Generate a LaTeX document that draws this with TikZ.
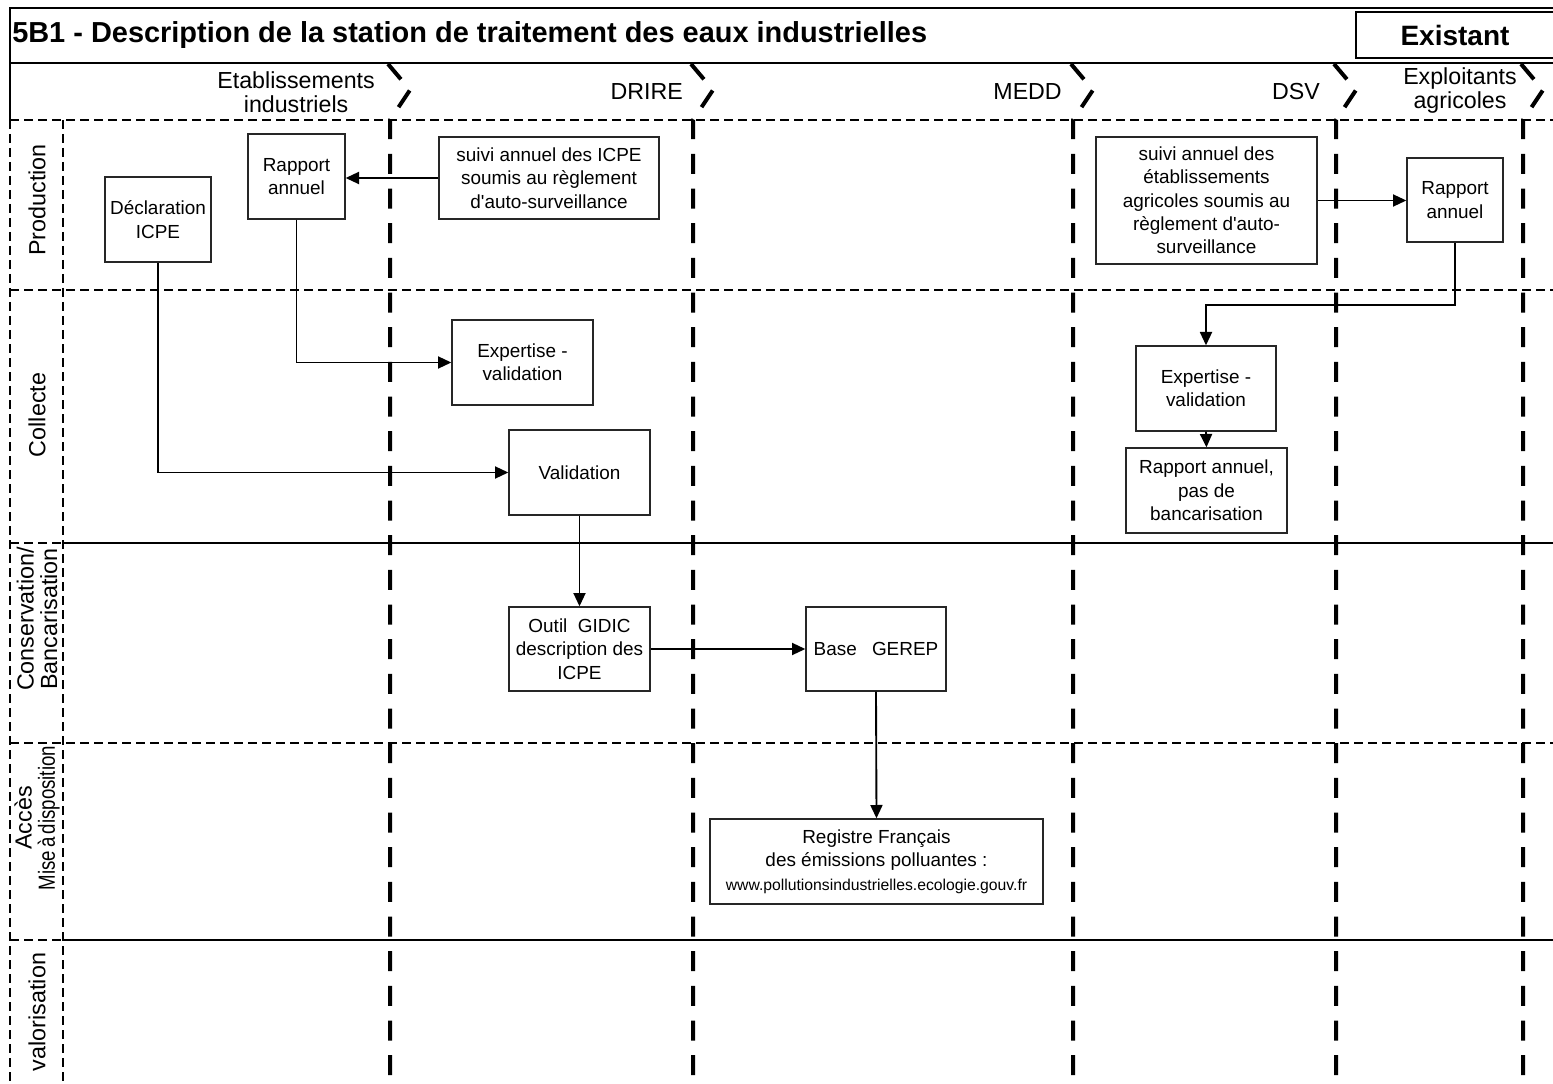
\documentclass[tikz,border=0pt]{standalone}
\usepackage{fontspec}
\setmainfont{Liberation Sans}
\usetikzlibrary{arrows.meta}
\begin{document}
\begin{tikzpicture}[x=0.75pt,y=-0.75pt,
  box/.style={draw=black!85, line width=1pt, rectangle, inner sep=0pt, align=center, font=\fontsize{14.2}{17.5}\selectfont},
  conn/.style={line width=1.4pt, -{Triangle[length=10pt,width=9pt]}},
  sep/.style={line width=3pt, dash pattern=on 15pt off 11pt},
  lanedash/.style={line width=1.1pt, dash pattern=on 7pt off 3.5pt},
  laneline/.style={line width=1.3pt},
  hdr/.style={font=\fontsize{17.4}{18}\selectfont, align=center, inner sep=0pt},
  lbl/.style={font=\fontsize{17.5}{17.5}\selectfont, align=center, inner sep=0pt, rotate=90},
]
\useasboundingbox (0,0) rectangle (1553,1084);

% frame and lanes
\draw[laneline] (10,120) -- (10,8) -- (1553,8);
\draw[laneline] (10,63) -- (1553,63);
\draw[lanedash] (10,120) -- (1553,120);
\draw[lanedash] (10,120) -- (10,1084);
\draw[lanedash] (63,120) -- (63,1084);
\draw[lanedash] (10,290) -- (1553,290);
\draw[lanedash] (10,543) -- (63,543);
\draw[laneline] (63,543) -- (1553,543);
\draw[lanedash] (10,743) -- (1553,743);
\draw[lanedash] (10,940) -- (63,940);
\draw[laneline] (63,940) -- (1553,940);

% Existant box
\draw[line width=1pt] (1553,12) -- (1356,12) -- (1356,58) -- (1553,58);
\node[font=\bfseries\fontsize{21}{21}\selectfont, inner sep=0pt] (existant) at (1455,35) {Existant};
\node[anchor=west, font=\bfseries\fontsize{21.7}{21.7}\selectfont, inner sep=0pt] (title) at (12,35) {5B1 - Description de la station de traitement des eaux industrielles};

% separators with chevrons
\foreach \x in {390,693,1073,1336,1523}
  \draw[sep] (\x-2,64) -- (\x+20,90) -- (\x,120) -- (\x,1084);

% header labels
\node[hdr, anchor=east] (hEI) at (375,92) {Etablissements\\industriels};
\node[hdr, anchor=east] (hDRIRE) at (683,92) {DRIRE};
\node[hdr, anchor=east] (hMEDD) at (1062,92) {MEDD};
\node[hdr, anchor=east] (hDSV) at (1320,92) {DSV};
\node[hdr, anchor=east] (hEA) at (1517,91) {Exploitants\\agricoles};

% left labels
\node[lbl] (lProd) at (37,200) {Production};
\node[lbl] (lColl) at (37,415) {Collecte};
\node[lbl] (lCons) at (37,619) {Conservation/\\Bancarisation};
\node[lbl] (lAcc) at (37,818) {Accès\\\scalebox{0.8}[1]{Mise\,à\,disposition}};
\node[lbl] (lVal) at (37,1012) {valorisation};

% boxes
\node[box, minimum width=79.5pt, minimum height=63.75pt] (decl) at (158,219.5) {Déclaration\\ICPE};
\node[box, minimum width=72.75pt, minimum height=63.75pt] (rap1) at (296.5,176.5) {Rapport\\annuel};
\node[box, minimum width=165pt, minimum height=61.5pt] (suivi1) at (549,178) {suivi annuel des ICPE\\soumis au règlement\\d\textquotesingle auto-surveillance};
\node[box, minimum width=105.75pt, minimum height=63.75pt] (exp1) at (522.5,362.5) {Expertise -\\validation};
\node[box, minimum width=105.75pt, minimum height=63.75pt] (valid) at (579.5,472.5) {Validation};
\node[box, minimum width=105.75pt, minimum height=63pt] (outil) at (579.5,649) {Outil~~GIDIC\\description des\\ICPE};
\node[box, minimum width=105pt, minimum height=63pt] (base) at (876,649) {Base\hspace{0.8em}GEREP};
\node[box, minimum width=249.75pt, minimum height=63.75pt] (reg) at (876.5,861.5) {Registre Français\\des émissions polluantes :\\{\fontsize{11.8}{14}\selectfont www.pollutionsindustrielles.ecologie.gouv.fr}};
\node[box, minimum width=165.75pt, minimum height=95.25pt] (suivi2) at (1206.5,200.5) {suivi annuel des\\établissements\\agricoles soumis au\\règlement d\textquotesingle auto-\\surveillance};
\node[box, minimum width=72pt, minimum height=63pt] (rap2) at (1455,200) {Rapport\\annuel};
\node[box, minimum width=105pt, minimum height=63.75pt] (exp2) at (1206,388.5) {Expertise -\\validation};
\node[box, minimum width=120.75pt, minimum height=63.75pt] (rap3) at (1206.5,490.5) {Rapport annuel,\\pas de\\bancarisation};

% connectors
\draw[conn] (suivi1.west) -- (suivi1.west -| rap1.east);
\draw[conn] (rap1.south) |- (exp1.west);
\draw[conn] (decl.south) |- (valid.west);
\draw[conn] (valid.south) -- (outil.north);
\draw[conn] (outil.east) -- (base.west);
\draw[conn] (base.south) -- (reg.north);
\draw[conn] (suivi2.east) -- (suivi2.east -| rap2.west);
\draw[conn] (rap2.south) -- ++(0,62) -| (exp2.north);
\draw[conn] (exp2.south) -- (rap3.north);
\end{tikzpicture}
\end{document}
